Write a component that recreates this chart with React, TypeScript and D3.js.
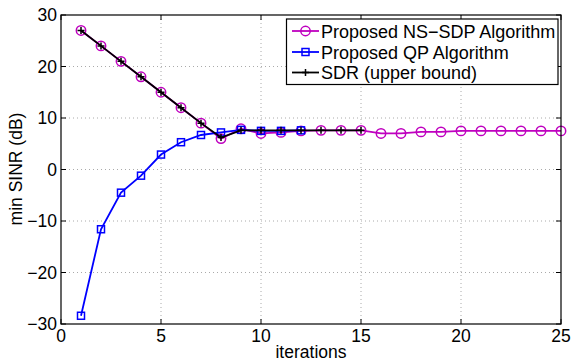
import React from "react";
import * as d3 from "d3";

const iterations = Array.from({ length: 25 }, (_, i) => i + 1);
const nsSdp = [27, 24, 21, 18, 15, 12, 9, 6, 7.9, 7.0, 7.2, 7.5, 7.6, 7.6, 7.6, 7.0, 7.0, 7.3, 7.3, 7.5, 7.5, 7.5, 7.5, 7.5, 7.5];
const qp = [-28.4, -11.6, -4.5, -1.2, 2.9, 5.3, 6.7, 7.2, 7.7, 7.5, 7.5, 7.6];
const sdr = [27, 24, 21, 18, 15, 12, 9, 6.2, 7.6, 7.6, 7.6, 7.6, 7.6, 7.6, 7.6];
const xTicks = [0, 5, 10, 15, 20, 25];
const yTicks = [-30, -20, -10, 0, 10, 20, 30];
const legendLabels = ["Proposed NS\u2212SDP Algorithm", "Proposed QP Algorithm", "SDR (upper bound)"];

const W = 571, H = 363;
const L = 61, R = 561, T = 15, B = 324;
const MAG = "#bf00bf";
const BLUE = "#0000ff";
const FONT = "'Liberation Sans', Arial, sans-serif";

export default function App() {
  const x = d3.scaleLinear().domain([0, 25]).range([L, R]);
  const y = d3.scaleLinear().domain([-30, 30]).range([B, T]);
  const line = d3.line<[number, number]>().x(d => x(d[0])).y(d => y(d[1]));
  const ns: [number, number][] = nsSdp.map((v, i) => [iterations[i], v]);
  const q: [number, number][] = qp.map((v, i) => [iterations[i], v]);
  const s: [number, number][] = sdr.map((v, i) => [iterations[i], v]);
  const tk = 5;
  const legendRows = [31, 52, 72.5];

  const plus = (cx: number, cy: number, key: string, sz = 3.5) => (
    <path key={key} d={`M${cx - sz},${cy}H${cx + sz}M${cx},${cy - sz}V${cy + sz}`} stroke="#000" strokeWidth={1.5} />
  );
  const square = (cx: number, cy: number, key: string) => (
    <rect key={key} x={cx - 3.5} y={cy - 3.5} width={7} height={7} fill="none" stroke={BLUE} strokeWidth={1.5} />
  );
  const circle = (cx: number, cy: number, key: string) => (
    <circle key={key} cx={cx} cy={cy} r={4.7} fill="none" stroke={MAG} strokeWidth={1.5} />
  );

  return (
    <svg width={W} height={H} style={{ position: "absolute", left: 0, top: 0, background: "#fff" }} fontFamily={FONT}>
      <rect x={0} y={0} width={W} height={H} fill="#fff" />
      {xTicks.slice(1, -1).map(t => (
        <line key={"gx" + t} x1={x(t)} x2={x(t)} y1={T} y2={B} stroke="#aaa" strokeWidth={1} strokeDasharray="1,3" />
      ))}
      {yTicks.slice(1, -1).map(t => (
        <line key={"gy" + t} x1={L} x2={R} y1={y(t)} y2={y(t)} stroke="#aaa" strokeWidth={1} strokeDasharray="1,3" />
      ))}
      {xTicks.map(t => (
        <g key={"tx" + t}>
          <line x1={x(t)} x2={x(t)} y1={B} y2={B - tk} stroke="#000" />
          <line x1={x(t)} x2={x(t)} y1={T} y2={T + tk} stroke="#000" />
          <text x={x(t)} y={342} textAnchor="middle" fontSize={17.5}>{t}</text>
        </g>
      ))}
      {yTicks.map(t => (
        <g key={"ty" + t}>
          <line x1={L} x2={L + tk} y1={y(t)} y2={y(t)} stroke="#000" />
          <line x1={R} x2={R - tk} y1={y(t)} y2={y(t)} stroke="#000" />
          <text x={L - 4} y={y(t) + 6} textAnchor="end" fontSize={17.5}>{t < 0 ? "\u2212" + Math.abs(t) : t}</text>
        </g>
      ))}
      <path d={line(ns) || ""} fill="none" stroke={MAG} strokeWidth={1.8} />
      {ns.map((d, i) => circle(x(d[0]), y(d[1]), "c" + i))}
      <path d={line(q) || ""} fill="none" stroke={BLUE} strokeWidth={1.8} />
      {q.map((d, i) => square(x(d[0]), y(d[1]), "s" + i))}
      <path d={line(s) || ""} fill="none" stroke="#000" strokeWidth={1.8} />
      {s.map((d, i) => plus(x(d[0]), y(d[1]), "p" + i))}
      <rect x={L} y={T} width={R - L} height={B - T} fill="none" stroke="#000" strokeWidth={1.2} />
      <text x={311} y={358} textAnchor="middle" fontSize={17.5}>iterations</text>
      <text transform={`translate(22,169) rotate(-90)`} textAnchor="middle" fontSize={17.5}>min SINR (dB)</text>
      <rect x={286.5} y={19} width={271.5} height={65.5} fill="#fff" stroke="#000" strokeWidth={1.2} />
      {legendLabels.map((lab, i) => {
        const ly = legendRows[i];
        const col = i === 0 ? MAG : i === 1 ? BLUE : "#000";
        return (
          <g key={"lg" + i}>
            <line x1={292} x2={319} y1={ly} y2={ly} stroke={col} strokeWidth={1.8} />
            {i === 0 ? circle(305.5, ly, "lc") : i === 1 ? square(305.5, ly, "ls") : plus(305.5, ly, "lp")}
            <text x={321} y={ly + 6.5} fontSize={18}>{lab}</text>
          </g>
        );
      })}
    </svg>
  );
}
